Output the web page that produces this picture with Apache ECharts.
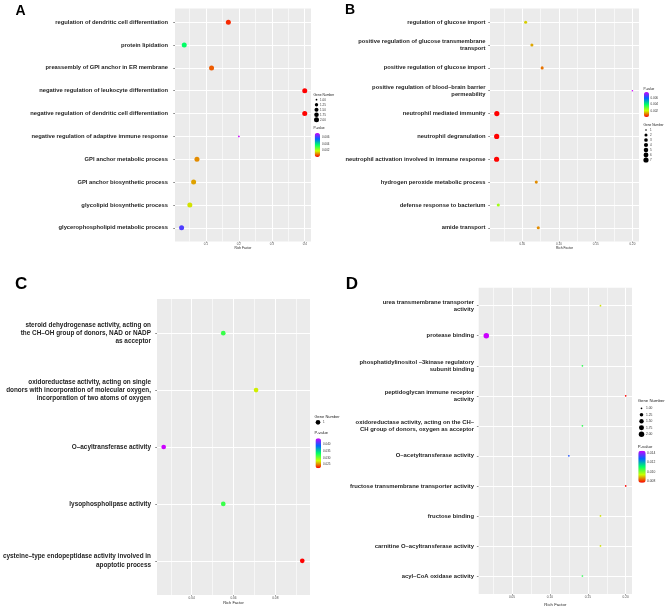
<!DOCTYPE html>
<html><head><meta charset="utf-8">
<script src="https://cdn.jsdelivr.net/npm/echarts@6/dist/echarts.min.js"></script>
<style>html,body{margin:0;padding:0;background:#fff}#c{width:668px;height:607px}</style>
</head><body><div id="c"></div><script>
// ---------- Panel A ----------
const catsA = ['regulation of dendritic cell differentiation','protein lipidation','preassembly of GPI anchor in ER membrane','negative regulation of leukocyte differentiation','negative regulation of dendritic cell differentiation','negative regulation of adaptive immune response','GPI anchor metabolic process','GPI anchor biosynthetic process','glycolipid biosynthetic process','glycerophospholipid metabolic process'];
const richA = [0.168, 0.034, 0.117, 0.4, 0.4, 0.2, 0.0727, 0.0625, 0.051, 0.026];
const geneA = [2, 2, 2, 2, 2, 1, 2, 2, 2, 2];
const pA = [0.0003, 0.0036, 0.00065, 0.00001, 0.00003, 0.0072, 0.001, 0.00115, 0.0016, 0.0061];
const geneLegendA = [1, 1.25, 1.5, 1.75, 2];
const geneLegendLabelsA = ['1.00', '1.25', '1.50', '1.75', '2.00'];
const pLegendA = [0.006, 0.004, 0.002];
const pLegendLabelsA = ['0.006', '0.004', '0.002'];

// ---------- Panel B ----------
const catsB = ['regulation of glucose import','positive regulation of glucose transmembrane\ntransport','positive regulation of glucose import','positive regulation of blood\u2013brain barrier\npermeability','neutrophil mediated immunity','neutrophil degranulation','neutrophil activation involved in immune response','hydrogen peroxide metabolic process','defense response to bacterium','amide transport'];
const richB = [0.0545, 0.063, 0.077, 0.2, 0.0152, 0.015, 0.0149, 0.069, 0.0172, 0.0717];
const geneB = [2, 2, 2, 1, 7, 7, 7, 2, 2, 2];
const pB = [0.0017, 0.0014, 0.001, 0.00798, 0.00011, 0.00012, 0.00013, 0.0012, 0.0025, 0.0012];
const geneLegendB = [1, 2, 3, 4, 5, 6, 7];
const geneLegendLabelsB = ['1', '2', '3', '4', '5', '6', '7'];
const pLegendB = [0.006, 0.004, 0.002];
const pLegendLabelsB = ['0.006', '0.004', '0.002'];

// ---------- Panel C ----------
const catsC = ['steroid dehydrogenase activity, acting on\nthe CH\u2013OH group of donors, NAD or NADP\nas acceptor','oxidoreductase activity, acting on single\ndonors with incorporation of molecular oxygen,\nincorporation of two atoms of oxygen','O\u2013acyltransferase activity','lysophospholipase activity','cysteine\u2013type endopeptidase activity involved in\napoptotic process'];
const richC = [0.0551, 0.0708, 0.0266, 0.0551, 0.0929];
const geneC = [1, 1, 1, 1, 1];
const pC = [0.0319, 0.0274, 0.0448, 0.0319, 0.0221];
const geneLegendC = [1];
const geneLegendLabelsC = ['1'];
const pLegendC = [0.040, 0.035, 0.030, 0.025];
const pLegendLabelsC = ['0.040', '0.035', '0.030', '0.025'];

// ---------- Panel D ----------
const catsD = ['urea transmembrane transporter\nactivity','protease binding','phosphatidylinositol \u20133kinase regulatory\nsubunit binding','peptidoglycan immune receptor\nactivity','oxidoreductase activity, acting on the CH\u2013\nCH group of donors, oxygen as acceptor','O\u2013acetyltransferase activity','fructose transmembrane transporter activity','fructose binding','carnitine O\u2013acyltransferase activity','acyl\u2013CoA oxidase activity'];
const richD = [0.1667, 0.0161, 0.1429, 0.2, 0.1429, 0.125, 0.2, 0.1667, 0.1667, 0.1429];
const geneD = [1, 2, 1, 1, 1, 1, 1, 1, 1, 1];
const pD = [0.0092, 0.0144, 0.0107, 0.0077, 0.0107, 0.0130, 0.0077, 0.0092, 0.0092, 0.0107];
const geneLegendD = [1, 1.25, 1.5, 1.75, 2];
const geneLegendLabelsD = ['1.00', '1.25', '1.50', '1.75', '2.00'];
const pLegendD = [0.014, 0.012, 0.010, 0.008];
const pLegendLabelsD = ['0.014', '0.012', '0.010', '0.008'];

const axisTitle = 'Rich Factor';
const geneTitle = 'Gene Number';
const pTitle = 'P-value';
const letters = ['A', 'B', 'C', 'D'];

// ---------- layout / style (no data) ----------
const FONT = '"Liberation Sans", Arial, Helvetica, sans-serif';
const rainbow = ['#FF0000', '#CCFF00', '#00FF66', '#0066FF', '#CC00FF'];

const layouts = [
  { letter:{x:15.5, y:10.7, size:14},
    bg:{left:175, top:8.5, width:136, height:233},
    xMin:0.006, xMax:0.419, step:0.1, dec:1, splitNumber:4,
    catFont:5.8, catMargin:7, catLineH:6.7,
    tickFont:3, tickMargin:1, nameFont:3.3, nameGap:4.2,
    size:{dmin:1.7, dmax:5, dmid:4.7},
    gene:{tx:313.5, ty:95, titleFont:3.3, cx:316.5, y0:99.7, dy:5, lx:320, font:3},
    pbar:{tx:313.5, ty:128, titleFont:3.3, x:314.7, y:133, w:5.3, h:24, lx:322, font:3} },
  { letter:{x:345, y:10.2, size:14},
    bg:{left:490, top:8.5, width:149, height:233},
    xMin:0.0059, xMax:0.209, step:0.05, dec:2, splitNumber:4,
    catFont:5.8, catMargin:4.5, catLineH:6.7,
    tickFont:3, tickMargin:1, nameFont:3.3, nameGap:4.5,
    size:{dmin:1.6, dmax:5.2, dmid:4.7},
    gene:{tx:643.5, ty:125, titleFont:3.2, cx:646, y0:130, dy:5, lx:650, font:3},
    pbar:{tx:643.5, ty:89, titleFont:3.2, x:644, y:92, w:5, h:25, lx:650.5, font:3} },
  { letter:{x:15, y:284, size:17},
    bg:{left:157, top:299, width:153, height:296},
    xMin:0.0234, xMax:0.0966, step:0.02, dec:2, splitNumber:4,
    catFont:6.4, catMargin:6, catLineH:8.3,
    tickFont:3.2, tickMargin:1.3, nameFont:4, nameGap:5.5,
    size:{dmin:1.6, dmax:5, dmid:4.7},
    gene:{tx:314.5, ty:416.7, titleFont:4, cx:318, y0:422.3, dy:5, lx:323, font:3},
    pbar:{tx:314.5, ty:433.3, titleFont:4, x:315.5, y:438.3, w:5.5, h:30, lx:323, font:3} },
  { letter:{x:345.7, y:284, size:17},
    bg:{left:478.7, top:287.7, width:153.3, height:306.3},
    xMin:0.0061, xMax:0.2083, step:0.05, dec:2, splitNumber:4,
    catFont:5.9, catMargin:4.7, catLineH:6.6,
    tickFont:3.2, tickMargin:1.3, nameFont:4.3, nameGap:5.5,
    size:{dmin:1.7, dmax:5.5, dmid:4.7},
    gene:{tx:637.7, ty:400.7, titleFont:4.3, cx:641.5, y0:408.3, dy:6.5, lx:646, font:3.3},
    pbar:{tx:637.7, ty:446.5, titleFont:4.3, x:638.3, y:450.7, w:7.4, h:32, lx:647, font:3.3} }
];

const panels = [
  {cats:catsA, rich:richA, gene:geneA, p:pA, gl:geneLegendA, gll:geneLegendLabelsA, pl:pLegendA, pll:pLegendLabelsA},
  {cats:catsB, rich:richB, gene:geneB, p:pB, gl:geneLegendB, gll:geneLegendLabelsB, pl:pLegendB, pll:pLegendLabelsB},
  {cats:catsC, rich:richC, gene:geneC, p:pC, gl:geneLegendC, gll:geneLegendLabelsC, pl:pLegendC, pll:pLegendLabelsC},
  {cats:catsD, rich:richD, gene:geneD, p:pD, gl:geneLegendD, gll:geneLegendLabelsD, pl:pLegendD, pll:pLegendLabelsD}
];

function sizeOf(P, L, g) {
  const gmin = Math.min(...P.gene), gmax = Math.max(...P.gene);
  if (gmax === gmin) return L.size.dmid;
  return L.size.dmin + (L.size.dmax - L.size.dmin) * Math.sqrt((g - gmin) / (gmax - gmin));
}

const option = {
  animation: false, backgroundColor: '#ffffff',
  grid: [], xAxis: [], yAxis: [], series: [], visualMap: [], graphic: []
};

panels.forEach((P, k) => {
  const L = layouts[k];
  const n = P.cats.length;
  const sp = L.bg.height / (n - 1 + 1.2);
  const dTop = L.bg.top + 0.1 * sp;
  const dH = n * sp;
  option.grid.push({left:L.bg.left, top:L.bg.top, width:L.bg.width, height:L.bg.height,
    show:true, backgroundColor:'#EBEBEB', borderWidth:0, containLabel:false, outerBoundsMode:'none'});
  option.grid.push({left:L.bg.left, top:dTop, width:L.bg.width, height:dH,
    show:false, containLabel:false, outerBoundsMode:'none'});
  option.xAxis.push({
    type:'value', gridIndex:2*k, min:L.xMin, max:L.xMax, splitNumber:L.splitNumber,
    name:axisTitle, nameLocation:'middle', nameGap:L.nameGap,
    nameTextStyle:{fontSize:L.nameFont, fontFamily:FONT, color:'#222'},
    axisLine:{show:false},
    axisTick:{show:true, length:1.3, lineStyle:{color:'#444', width:0.5}},
    axisLabel:{fontSize:L.tickFont, fontFamily:FONT, color:'#4d4d4d', margin:L.tickMargin,
      showMinLabel:false, showMaxLabel:false, hideOverlap:false,
      formatter: v => { const q = v / L.step; return Math.abs(q - Math.round(q)) < 1e-6 ? v.toFixed(L.dec) : ''; }},
    splitLine:{show:true, showMinLine:false, showMaxLine:false, lineStyle:{color:'#ffffff', width:1}},
    minorTick:{show:false, splitNumber:2},
    minorSplitLine:{show:true, lineStyle:{color:'#ffffff', width:0.6}}
  });
  option.xAxis.push({type:'value', gridIndex:2*k+1, min:L.xMin, max:L.xMax, show:false});
  option.yAxis.push({type:'value', gridIndex:2*k, min:0, max:1, show:false});
  option.yAxis.push({
    type:'category', gridIndex:2*k+1, data:P.cats, inverse:true, boundaryGap:true,
    axisLine:{show:false},
    axisTick:{show:true, alignWithLabel:true, length:1.8, lineStyle:{color:'#444', width:0.6}},
    axisLabel:{interval:0, fontSize:L.catFont, fontWeight:'bold', fontFamily:FONT, color:'#1e1e1e',
      margin:L.catMargin, lineHeight:L.catLineH, align:'right', hideOverlap:false},
    splitLine:{show:false}
  });
  // horizontal white grid lines at each category (drawn beneath the points)
  option.series.push({
    type:'scatter', xAxisIndex:2*k+1, yAxisIndex:2*k+1, data:[], z:1, zlevel:0, silent:true,
    markLine:{z:1, silent:true, symbol:['none','none'], label:{show:false}, animation:false,
      lineStyle:{color:'#ffffff', width:1, type:'solid'},
      emphasis:{disabled:true},
      data:P.cats.map((c, i) => ({yAxis:i}))}
  });
  const ptsIdx = option.series.length;
  option.series.push({
    type:'scatter', xAxisIndex:2*k+1, yAxisIndex:2*k+1, z:10, silent:true,
    data:P.cats.map((c, i) => [P.rich[i], i, P.gene[i], P.p[i]]),
    encode:{x:0, y:1},
    symbol:'circle',
    symbolSize: v => sizeOf(P, L, v[2]),
    itemStyle:{opacity:1}
  });
  const pMin = Math.min(...P.p), pMax = Math.max(...P.p);
  option.visualMap.push({
    type:'continuous', seriesIndex:ptsIdx, dimension:3, min:pMin, max:pMax,
    inRange:{color:rainbow}, left:L.pbar.x, top:L.pbar.y, itemWidth:L.pbar.w, itemHeight:L.pbar.h,
    padding:0, calculable:false, hoverLink:false, realtime:false, orient:'vertical', text:null
  });
  option.graphic.push({type:'text', x:L.letter.x, y:L.letter.y, silent:true,
    style:{text:letters[k], fontSize:L.letter.size, fontWeight:'bold', fontFamily:FONT, fill:'#000',
      align:'left', verticalAlign:'middle'}});
  option.graphic.push({type:'text', x:L.gene.tx, y:L.gene.ty, silent:true,
    style:{text:geneTitle, fontSize:L.gene.titleFont, fontFamily:FONT, fill:'#222', align:'left', verticalAlign:'middle'}});
  P.gl.forEach((g, j) => {
    const cy = L.gene.y0 + j * L.gene.dy;
    option.graphic.push({type:'circle', silent:true, shape:{cx:L.gene.cx, cy:cy, r:sizeOf(P, L, g) / 2}, style:{fill:'#000'}});
    option.graphic.push({type:'text', x:L.gene.lx, y:cy, silent:true,
      style:{text:P.gll[j], fontSize:L.gene.font, fontFamily:FONT, fill:'#333', align:'left', verticalAlign:'middle'}});
  });
  option.graphic.push({type:'text', x:L.pbar.tx, y:L.pbar.ty, silent:true,
    style:{text:pTitle, fontSize:L.pbar.titleFont, fontFamily:FONT, fill:'#222', align:'left', verticalAlign:'middle'}});
  P.pl.forEach((v, j) => {
    const y = L.pbar.y + (pMax - v) / (pMax - pMin) * L.pbar.h;
    option.graphic.push({type:'text', x:L.pbar.lx, y:y, silent:true,
      style:{text:P.pll[j], fontSize:L.pbar.font, fontFamily:FONT, fill:'#333', align:'left', verticalAlign:'middle'}});
  });
});

const chart = echarts.init(document.getElementById('c'), null, {renderer:'canvas', width:668, height:607});
chart.setOption(option);
</script></body></html>
